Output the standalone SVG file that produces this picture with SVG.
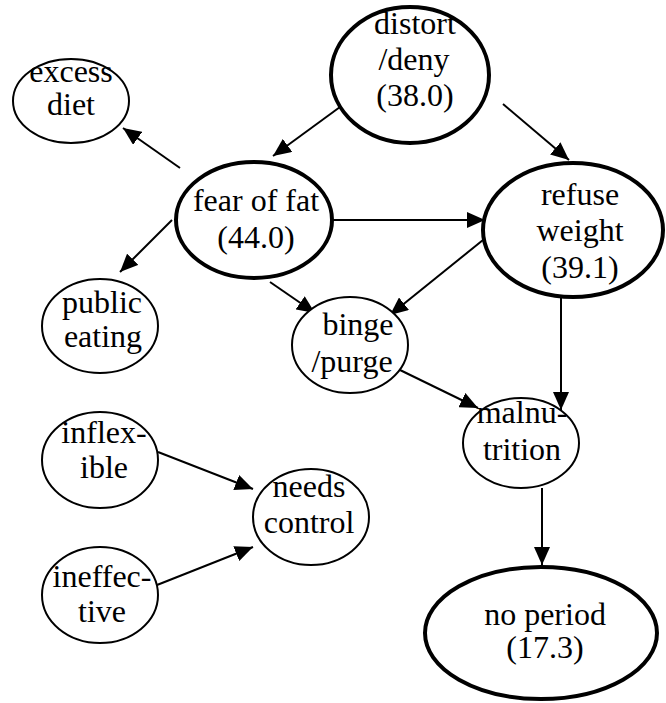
<svg xmlns="http://www.w3.org/2000/svg" width="666" height="703" viewBox="0 0 666 703">
<style>
  .n ellipse { fill: #ffffff; stroke: #000000; stroke-width: 2; }
  .n.b ellipse { stroke-width: 4; }
  .n text { font-family: "Liberation Serif", "Times New Roman", serif; font-size: 32px; fill: #000000; text-anchor: middle; }
  .e line { stroke: #000000; stroke-width: 2; marker-end: url(#ah); }
</style>
<defs>
  <marker id="ah" markerUnits="userSpaceOnUse" markerWidth="18" markerHeight="16" refX="18" refY="8" orient="auto" viewBox="0 0 18 16">
    <path d="M0,0 L18,8 L0,16 z" fill="#000000"/>
  </marker>
</defs>
<rect width="666" height="703" fill="#ffffff"/>
<g id="edges" class="e">
  <line x1="340" y1="107" x2="273" y2="156"/>
  <line x1="503" y1="104" x2="569" y2="160"/>
  <line x1="180" y1="168" x2="123" y2="128"/>
  <line x1="172" y1="220" x2="120" y2="272"/>
  <line x1="332" y1="220" x2="485" y2="220"/>
  <line x1="270" y1="282" x2="315" y2="313"/>
  <line x1="483" y1="240" x2="390" y2="315"/>
  <line x1="561" y1="297" x2="561" y2="410"/>
  <line x1="400" y1="370" x2="478" y2="408"/>
  <line x1="542" y1="488" x2="542" y2="565"/>
  <line x1="158" y1="452" x2="253" y2="489"/>
  <line x1="157" y1="585" x2="253" y2="547"/>
</g>
<g id="distort" class="n b">
  <ellipse cx="410" cy="75" rx="79" ry="68"/>
  <text x="415" y="34">distort</text>
  <text x="414" y="70">/deny</text>
  <text x="415" y="106">(38.0)</text>
</g>
<g id="excess" class="n">
  <ellipse cx="71" cy="101" rx="58" ry="42"/>
  <text x="71" y="82">excess</text>
  <text x="71" y="115">diet</text>
</g>
<g id="fear" class="n b">
  <ellipse cx="254" cy="220" rx="78" ry="58"/>
  <text x="256" y="211">fear of fat</text>
  <text x="256" y="248">(44.0)</text>
</g>
<g id="refuse" class="n b">
  <ellipse cx="573" cy="230" rx="90" ry="67"/>
  <text x="580" y="205">refuse</text>
  <text x="580" y="241">weight</text>
  <text x="580" y="278">(39.1)</text>
</g>
<g id="public" class="n">
  <ellipse cx="100" cy="326" rx="58" ry="47"/>
  <text x="102" y="313">public</text>
  <text x="103" y="347">eating</text>
</g>
<g id="binge" class="n">
  <ellipse cx="350" cy="345" rx="58" ry="48"/>
  <text x="358" y="335">binge</text>
  <text x="352" y="372">/purge</text>
</g>
<g id="malnutrition" class="n">
  <ellipse cx="521" cy="443" rx="58" ry="45"/>
  <text x="522" y="423">malnu-</text>
  <text x="522" y="460">trition</text>
</g>
<g id="inflexible" class="n">
  <ellipse cx="100" cy="460" rx="58" ry="48"/>
  <text x="104" y="443">inflex-</text>
  <text x="104" y="478">ible</text>
</g>
<g id="needs" class="n">
  <ellipse cx="311" cy="517" rx="58" ry="48"/>
  <text x="309" y="497">needs</text>
  <text x="309" y="533">control</text>
</g>
<g id="ineffective" class="n">
  <ellipse cx="100" cy="595" rx="58" ry="48"/>
  <text x="102" y="587">ineffec-</text>
  <text x="102" y="622">tive</text>
</g>
<g id="noperiod" class="n b">
  <ellipse cx="541" cy="633" rx="116" ry="66"/>
  <text x="545" y="625">no period</text>
  <text x="545" y="658">(17.3)</text>
</g>
</svg>
